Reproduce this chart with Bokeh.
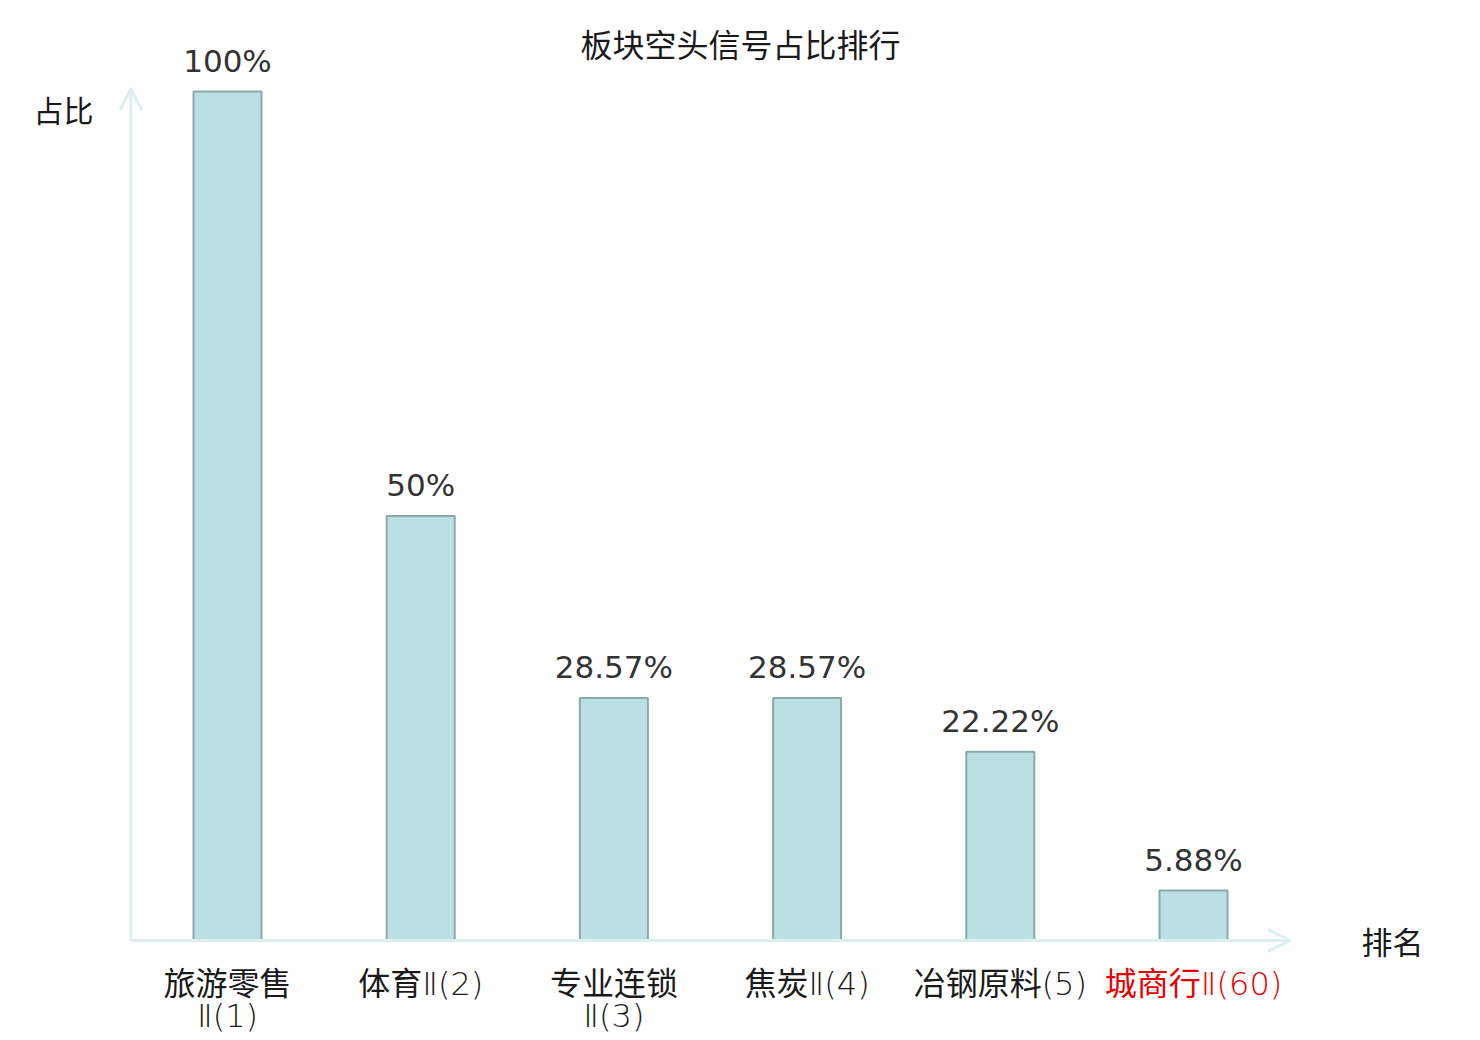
from bokeh.plotting import figure
from bokeh.models import ColumnDataSource, Range1d, Arrow, OpenHead, Label
from bokeh.core.properties import value
from bokeh.embed import file_html
from bokeh.resources import INLINE

title_text = "板块空头信号占比排行"
categories = ["旅游零售\nⅡ(1)", "体育Ⅱ(2)", "专业连锁\nⅡ(3)", "焦炭Ⅱ(4)", "冶钢原料(5)", "城商行Ⅱ(60)"]
values = [100, 50, 28.57, 28.57, 22.22, 5.88]
value_labels = ["100%", "50%", "28.57%", "28.57%", "22.22%", "5.88%"]
label_colors = ["#1a1a1a", "#1a1a1a", "#1a1a1a", "#1a1a1a", "#1a1a1a", "#e60000"]
y_name = "占比"
x_name = "排名"

W, H = 1480, 1040
x0_px, x_step = 227.0, 193.2
y0_px, y_scale = 940.0, 8.49

x_start = -x0_px / x_step
x_end = (W - x0_px) / x_step
y_start = -(H - y0_px) / y_scale
y_end = y0_px / y_scale

def dx(px):
    return (px - x0_px) / x_step

def dy(py):
    return (y0_px - py) / y_scale

xs = list(range(len(categories)))
src = ColumnDataSource(dict(x=xs, top=values, vl=value_labels, cat=categories, col=label_colors))

p = figure(width=W, height=H, output_backend="svg", toolbar_location=None,
           x_range=Range1d(x_start, x_end), y_range=Range1d(y_start, y_end),
           min_border=0, outline_line_color=None, background_fill_color="white",
           border_fill_color="white")
p.xaxis.visible = False
p.yaxis.visible = False
p.xgrid.visible = False
p.ygrid.visible = False

axis_color = "#dcf1ef"
n = len(categories)
p.add_layout(Arrow(end=OpenHead(size=22, line_color=axis_color, line_width=3),
                   x_start=-0.5, y_start=0, x_end=n - 0.5, y_end=0,
                   line_color=axis_color, line_width=3))
p.add_layout(Arrow(end=OpenHead(size=22, line_color=axis_color, line_width=3),
                   x_start=-0.5, y_start=0, x_end=-0.5, y_end=max(values) * 1.0035,
                   line_color=axis_color, line_width=3))

p.vbar(x="x", top="top", bottom=0, width=0.352, source=src,
       fill_color="#bbe0e3", line_color="#8ba8aa", line_width=2)

p.text(x="x", y="top", text="vl", source=src, text_align="center",
       text_baseline="alphabetic", y_offset=-31,
       text_font=value("DejaVu Sans"), text_font_size="31px", text_color="#333333")

p.text(x="x", y=0, text="cat", source=src, text_align="center",
       text_baseline="top", y_offset=24, text_line_height=0.86,
       text_font=value("'DejaVu Sans Light', 'Noto Sans CJK SC'"),
       text_font_size="32px", text_color="col")

p.add_layout(Label(x=dx(740), y=dy(42), text=title_text, text_align="center",
                   text_baseline="middle", text_font="Noto Sans CJK SC",
                   text_font_size="32px", text_color="#1a1a1a"))
p.add_layout(Label(x=dx(63), y=dy(108), text=y_name, text_align="center",
                   text_baseline="middle", text_font="Noto Sans CJK SC",
                   text_font_size="30px", text_color="#1a1a1a"))
p.add_layout(Label(x=dx(1392), y=dy(940), text=x_name, text_align="center",
                   text_baseline="middle", text_font="Noto Sans CJK SC",
                   text_font_size="31px", text_color="#1a1a1a"))

open("out.html", "w").write(file_html(p, INLINE))
